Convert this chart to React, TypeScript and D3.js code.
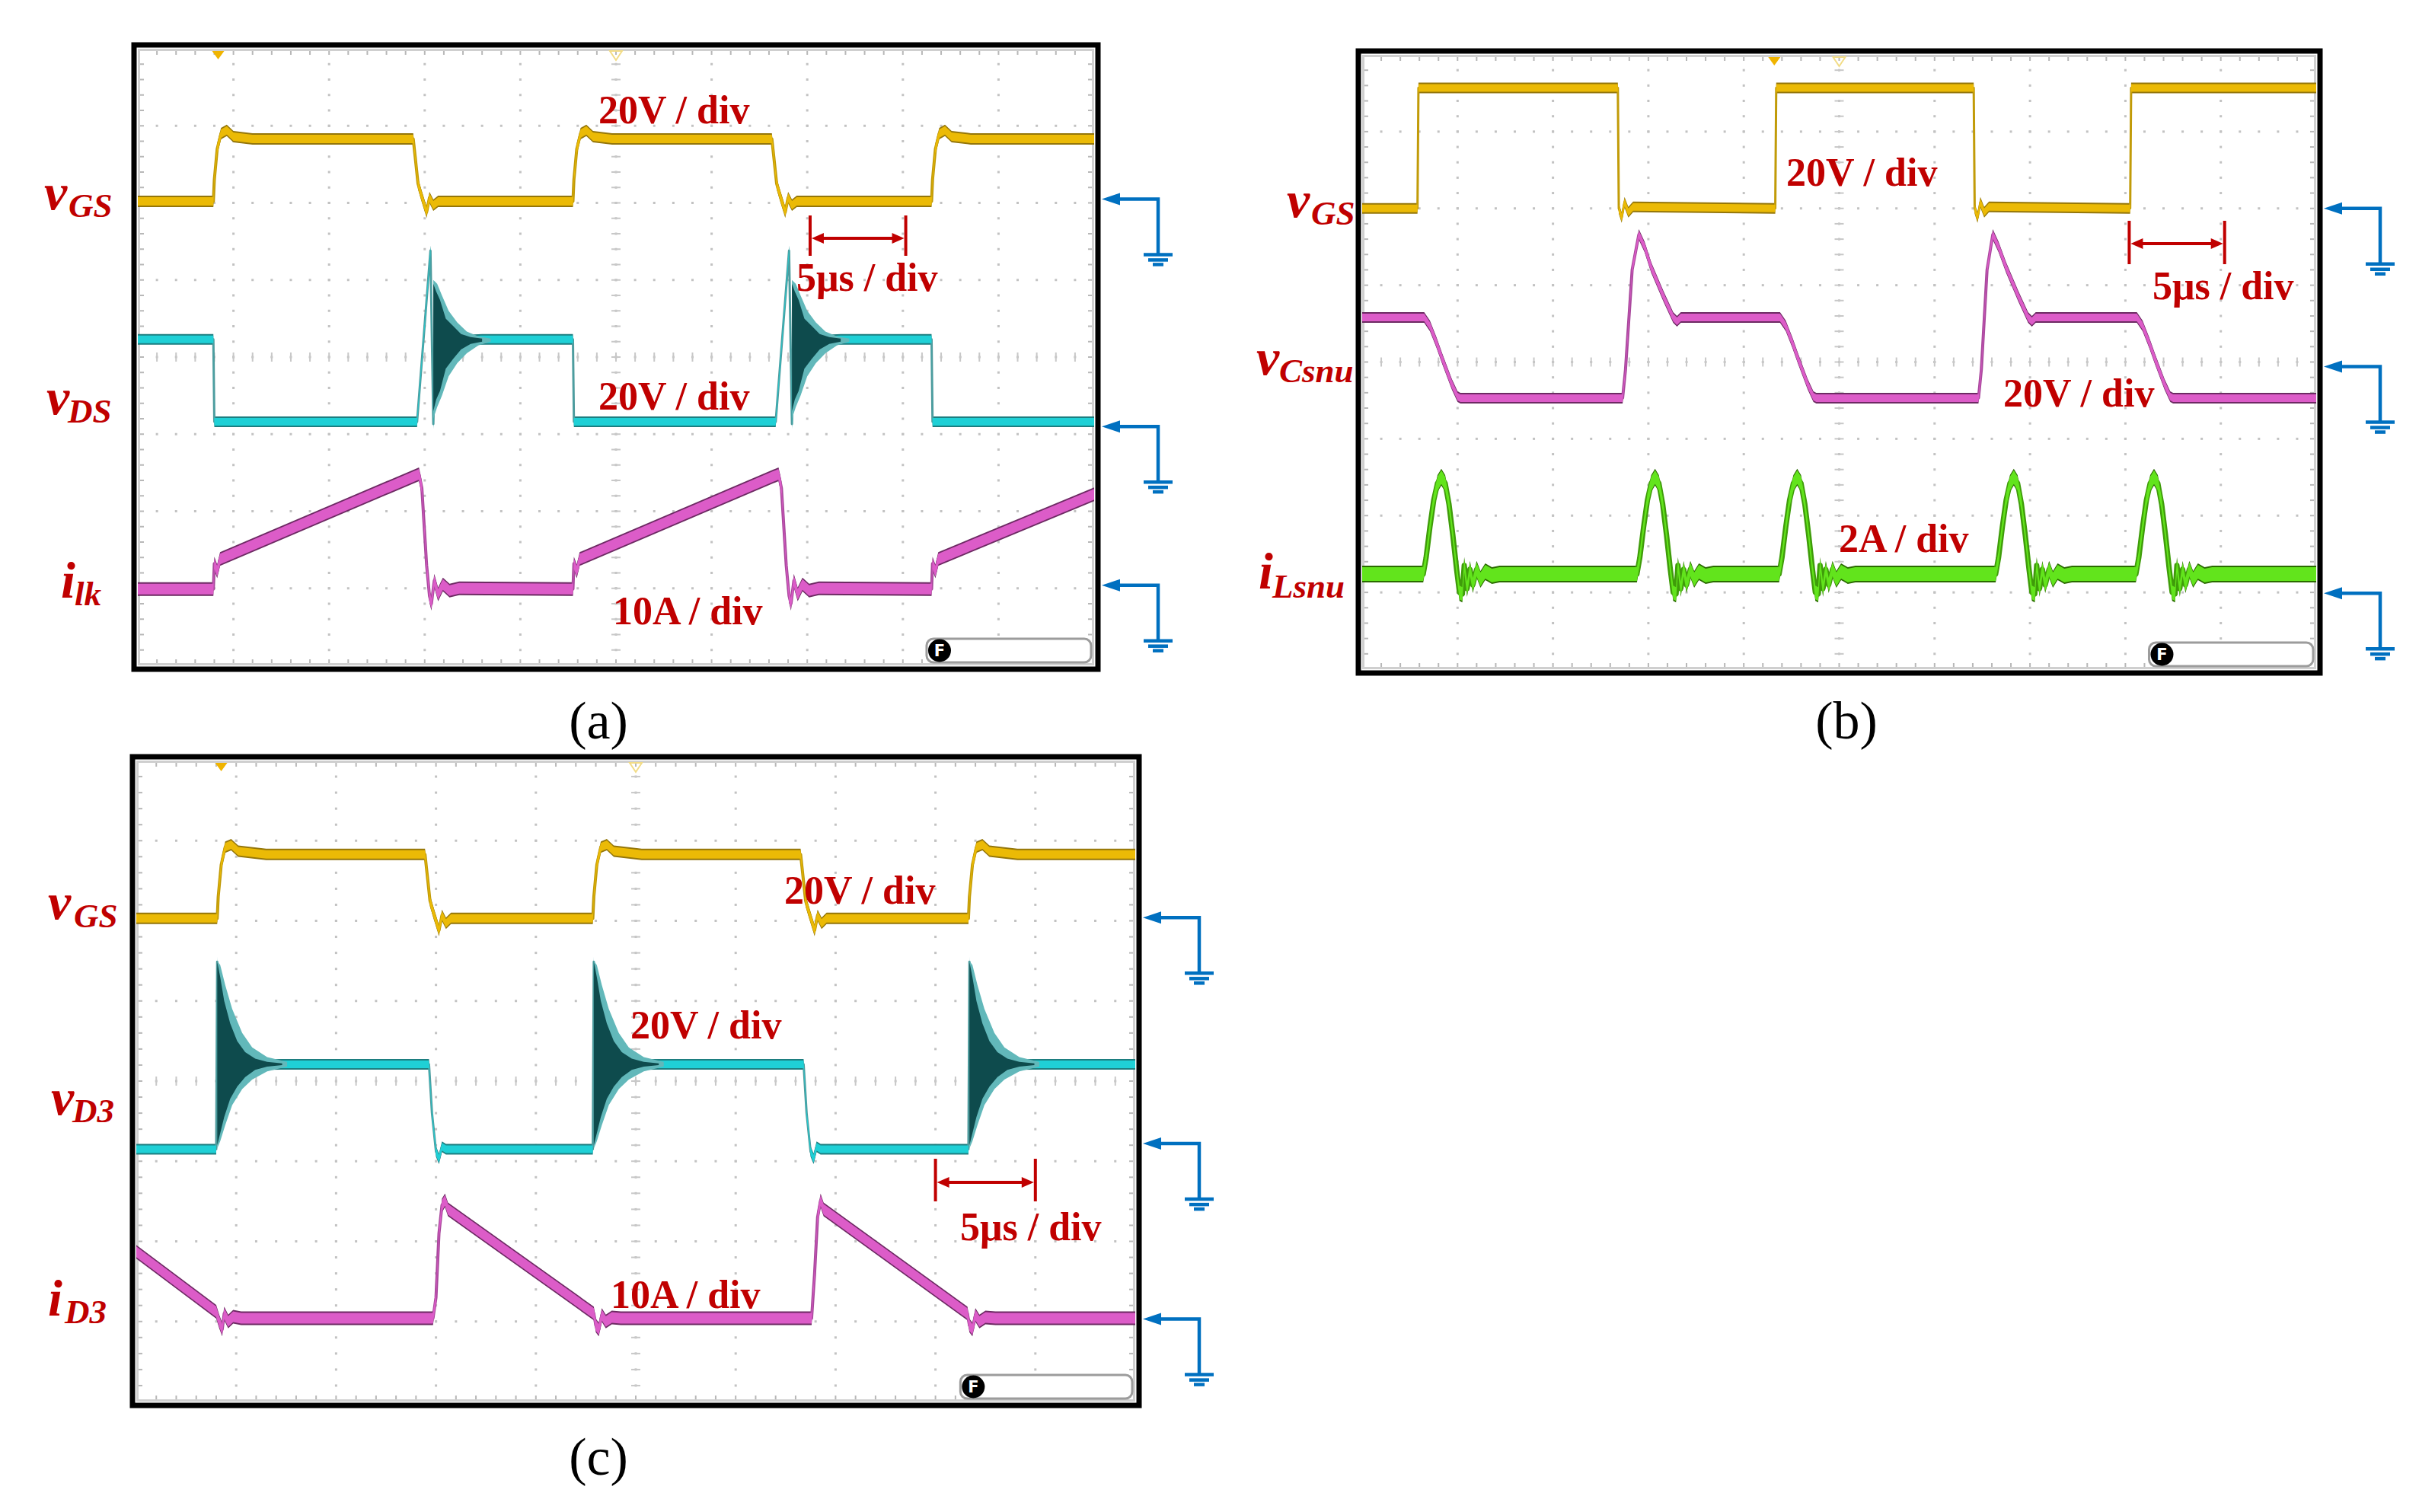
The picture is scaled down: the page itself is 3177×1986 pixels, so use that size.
import React from 'react';
import * as d3 from 'd3';

type P = [number, number];
type R = [number, number, number];

// ---------------- DATA (x in divisions 0..10, y in divisions 0..8 from bottom) ----------------
// Panel (a)
const aVgs: P[] = [
  [0, 6.02], [0.79, 6.02], [0.8, 6.3], [0.83, 6.7], [0.87, 6.9], [0.93, 6.94], [1.0, 6.86], [1.2, 6.83],
  [2.88, 6.83], [2.9, 6.6], [2.93, 6.25], [2.97, 6.08], [3.02, 5.88], [3.05, 6.07], [3.09, 5.97], [3.14, 6.02],
  [4.55, 6.02], [4.56, 6.3], [4.59, 6.7], [4.63, 6.9], [4.69, 6.94], [4.76, 6.86], [4.96, 6.83],
  [6.63, 6.83], [6.65, 6.6], [6.68, 6.25], [6.72, 6.08], [6.77, 5.88], [6.8, 6.07], [6.84, 5.97], [6.89, 6.02],
  [8.3, 6.02], [8.31, 6.3], [8.34, 6.7], [8.38, 6.9], [8.44, 6.94], [8.51, 6.86], [8.71, 6.83], [10, 6.83],
];
const aVds: P[] = [
  [0, 4.23], [0.79, 4.23], [0.8, 3.16], [2.92, 3.16], [3.06, 5.38], [3.09, 3.13], [3.11, 4.2], [3.6, 4.23],
  [4.55, 4.23], [4.56, 3.16], [6.67, 3.16], [6.81, 5.38], [6.84, 3.13], [6.86, 4.2], [7.35, 4.23],
  [8.3, 4.23], [8.31, 3.16], [10, 3.16],
];
const aRingInner: R[] = [
  [0, 4.95, 3.3], [0.03, 4.85, 3.45], [0.07, 4.74, 3.56], [0.13, 4.5, 3.85], [0.21, 4.4, 3.98],
  [0.29, 4.3, 4.1], [0.39, 4.26, 4.17], [0.51, 4.24, 4.2],
];
const aRingOuter: R[] = [
  [0, 5.0, 3.2], [0.04, 4.95, 3.35], [0.09, 4.8, 3.5], [0.16, 4.6, 3.75], [0.25, 4.45, 3.92],
  [0.35, 4.33, 4.05], [0.47, 4.27, 4.15], [0.6, 4.24, 4.2],
];
const aRingStarts = [3.09, 6.84];
const aIlk: P[] = [
  [0, 0.99], [0.79, 0.99], [0.8, 1.32], [0.83, 1.22], [0.86, 1.38], [2.94, 2.48], [2.97, 2.3], [3.02, 1.3],
  [3.05, 0.9], [3.07, 0.8], [3.1, 1.1], [3.14, 0.92], [3.19, 1.05], [3.26, 0.97], [3.36, 1.0],
  [4.55, 0.99], [4.56, 1.32], [4.59, 1.22], [4.62, 1.38], [6.7, 2.48], [6.73, 2.3], [6.78, 1.3],
  [6.81, 0.9], [6.83, 0.8], [6.86, 1.1], [6.9, 0.92], [6.95, 1.05], [7.02, 0.97], [7.12, 1.0],
  [8.3, 0.99], [8.31, 1.32], [8.34, 1.22], [8.37, 1.38], [10, 2.22],
];
const aGrounds = [6.05, 3.1, 1.04];

// Panel (b)
const bVgs: P[] = [
  [0, 6.0], [0.58, 6.0], [0.59, 7.57], [2.68, 7.57], [2.69, 6.0], [2.72, 5.88], [2.75, 6.08], [2.79, 5.95],
  [2.84, 6.02], [4.33, 6.0], [4.34, 7.57], [6.41, 7.57], [6.42, 6.0], [6.45, 5.88], [6.48, 6.08],
  [6.52, 5.95], [6.57, 6.02], [8.05, 6.0], [8.06, 7.57], [10, 7.57],
];
const bVcsnu: P[] = [
  [0, 4.58], [0.65, 4.58], [0.71, 4.47], [0.78, 4.25], [0.84, 4.04], [0.94, 3.71], [1.0, 3.55], [1.03, 3.53],
  [2.73, 3.53], [2.76, 3.9], [2.83, 5.2], [2.9, 5.66], [2.96, 5.5], [3.03, 5.23], [3.16, 4.85], [3.26, 4.58],
  [3.3, 4.53], [3.34, 4.58], [4.38, 4.58], [4.44, 4.47], [4.51, 4.25], [4.57, 4.04], [4.67, 3.71],
  [4.73, 3.55], [4.76, 3.53], [6.46, 3.53], [6.49, 3.9], [6.55, 5.2], [6.61, 5.66], [6.67, 5.5],
  [6.75, 5.23], [6.88, 4.85], [6.98, 4.58], [7.02, 4.53], [7.06, 4.58], [8.12, 4.58], [8.18, 4.47],
  [8.25, 4.25], [8.31, 4.04], [8.41, 3.71], [8.47, 3.55], [8.5, 3.53], [10, 3.53],
];
const bPulse: P[] = [
  [0, 1.24], [0.03, 1.45], [0.07, 1.85], [0.11, 2.2], [0.15, 2.42], [0.19, 2.5], [0.23, 2.42], [0.27, 2.15],
  [0.31, 1.75], [0.35, 1.3], [0.38, 1.0], [0.41, 0.98], [0.43, 1.35], [0.46, 1.05], [0.49, 1.3], [0.52, 1.1],
  [0.56, 1.3], [0.6, 1.17], [0.65, 1.27], [0.72, 1.22], [0.8, 1.24],
];
const bPulseStarts = [0.64, 2.88, 4.37, 6.64, 8.11];
const bBase = 1.24;
const bGrounds = [6.0, 3.94, 0.99];

// Panel (c)
const cVgs: P[] = [
  [0, 6.03], [0.81, 6.03], [0.82, 6.3], [0.85, 6.7], [0.89, 6.92], [0.95, 6.95], [1.02, 6.87], [1.3, 6.83],
  [2.89, 6.83], [2.91, 6.6], [2.94, 6.25], [2.98, 6.08], [3.03, 5.88], [3.06, 6.07], [3.1, 5.97], [3.15, 6.03],
  [4.57, 6.03], [4.58, 6.3], [4.61, 6.7], [4.65, 6.92], [4.71, 6.95], [4.78, 6.87], [5.06, 6.83],
  [6.65, 6.83], [6.67, 6.6], [6.7, 6.25], [6.74, 6.08], [6.79, 5.88], [6.82, 6.07], [6.86, 5.97], [6.91, 6.03],
  [8.33, 6.03], [8.34, 6.3], [8.37, 6.7], [8.41, 6.92], [8.47, 6.95], [8.54, 6.87], [8.82, 6.83], [10, 6.83],
];
const cVd3: P[] = [
  [0, 3.15], [0.8, 3.15], [0.81, 5.49], [0.83, 3.3], [0.85, 4.2], [1.45, 4.21], [2.93, 4.21], [2.96, 3.6],
  [3.0, 3.12], [3.03, 3.03], [3.06, 3.18], [3.1, 3.15], [4.57, 3.15], [4.58, 5.49], [4.6, 3.3], [4.62, 4.2],
  [5.2, 4.21], [6.68, 4.21], [6.71, 3.6], [6.75, 3.12], [6.78, 3.03], [6.81, 3.18], [6.85, 3.15],
  [8.33, 3.15], [8.34, 5.49], [8.36, 3.3], [8.38, 4.2], [8.98, 4.21], [10, 4.21],
];
const cRingInner: R[] = [
  [0, 5.49, 3.2], [0.03, 5.3, 3.35], [0.07, 5.0, 3.55], [0.13, 4.72, 3.78], [0.2, 4.5, 3.93],
  [0.28, 4.36, 4.05], [0.38, 4.28, 4.14], [0.5, 4.24, 4.18], [0.65, 4.22, 4.2],
];
const cRingOuter: R[] = [
  [0, 5.5, 3.16], [0.03, 5.45, 3.25], [0.08, 5.2, 3.45], [0.15, 4.9, 3.7], [0.25, 4.6, 3.9],
  [0.35, 4.42, 4.02], [0.5, 4.3, 4.12], [0.7, 4.24, 4.18],
];
const cRingStarts = [0.81, 4.58, 8.34];
const cId3: P[] = [
  [0, 1.87], [0.8, 1.12], [0.83, 1.0], [0.86, 0.9], [0.88, 1.1], [0.92, 1.0], [0.97, 1.06], [1.05, 1.04],
  [2.97, 1.04], [3.0, 1.3], [3.03, 2.1], [3.06, 2.45], [3.09, 2.51], [3.12, 2.4], [4.58, 1.1], [4.6, 0.95],
  [4.63, 0.9], [4.66, 1.08], [4.7, 1.0], [4.76, 1.05], [4.85, 1.04], [6.76, 1.04], [6.79, 1.6], [6.82, 2.3],
  [6.85, 2.51], [6.88, 2.4], [8.32, 1.1], [8.34, 0.95], [8.37, 0.9], [8.4, 1.08], [8.44, 1.0], [8.5, 1.05],
  [8.6, 1.04], [10, 1.04],
];
const cGrounds = [6.04, 3.22, 1.03];

// Text
const aScaleTexts = ['20V / div', '5μs / div', '20V / div', '10A / div'];
const bScaleTexts = ['20V / div', '5μs / div', '20V / div', '2A / div'];
const cScaleTexts = ['20V / div', '20V / div', '5μs / div', '10A / div'];
const aNames: [string, string][] = [['v', 'GS'], ['v', 'DS'], ['i', 'lk']];
const bNames: [string, string][] = [['v', 'GS'], ['v', 'Csnu'], ['i', 'Lsnu']];
const cNames: [string, string][] = [['v', 'GS'], ['v', 'D3'], ['i', 'D3']];
const panelTags = ['(a)', '(b)', '(c)'];

// ---------------- LAYOUT / STYLE ----------------
const RED = '#c00000';
const BLUE = '#0070c0';
const SERIF = '"Liberation Serif", "Times New Roman", serif';
const YEL = { dark: '#94760a', bright: '#ebba06', edge: '#c09a08' };
const CYA = { dark: '#1d7e80', bright: '#1fd0d6', edge: '#4f9a9c' };
const MAG = { dark: '#6d2a63', bright: '#dc5cc8', edge: '#a8489c' };
const GRN = { dark: '#2a6a00', bright: '#62e41c', edge: '#3f9c0a' };

type Box = { x0: number; y0: number; x1: number; y1: number };
const LA: Box = { x0: 181, y0: 64, x1: 1437, y1: 874 };
const LB: Box = { x0: 1789, y0: 72, x1: 3042, y1: 879 };
const LC: Box = { x0: 179, y0: 999, x1: 1491, y1: 1841 };

function scales(b: Box) {
  return {
    xs: d3.scaleLinear().domain([0, 10]).range([b.x0, b.x1]),
    ys: d3.scaleLinear().domain([0, 8]).range([b.y1, b.y0]),
  };
}

type Sc = ReturnType<typeof scales>;

function Trace({ pts, sc, h, col, edgeW }: { pts: P[]; sc: Sc; h: number; col: typeof YEL; edgeW: number }) {
  const { xs, ys } = sc;
  const outer = d3.area<P>().x(d => xs(d[0])).y0(d => ys(d[1]) + h / 2 + 2).y1(d => ys(d[1]) - h / 2 - 2)(pts) || '';
  const inner = d3.area<P>().x(d => xs(d[0])).y0(d => ys(d[1]) + h / 2).y1(d => ys(d[1]) - h / 2)(pts) || '';
  const ln = d3.line<P>().x(d => xs(d[0])).y(d => ys(d[1]))(pts) || '';
  return (
    <g>
      <path d={outer} fill={col.dark} />
      <path d={ln} fill="none" stroke={col.edge} strokeWidth={edgeW} strokeLinejoin="round" />
      <path d={inner} fill={col.bright} />
    </g>
  );
}

function Ring({ rows, t0, sc, fill }: { rows: R[]; t0: number; sc: Sc; fill: string }) {
  const { xs, ys } = sc;
  const shifted: R[] = rows.map(r => [r[0] + t0, r[1], r[2]]);
  const a = d3.area<R>().x(d => xs(d[0])).y0(d => ys(d[2])).y1(d => ys(d[1]))(shifted) || '';
  return <path d={a} fill={fill} />;
}

function Grid({ sc, b }: { sc: Sc; b: Box }) {
  const { xs, ys } = sc;
  const els: React.ReactNode[] = [];
  const dc = '#c2c2c2';
  for (let i = 1; i < 10; i++) {
    for (let k = 1; k < 40; k++) {
      els.push(<rect key={`v${i}-${k}`} x={xs(i) - 1.5} y={ys(k * 0.2) - 1.5} width={3} height={3} fill={dc} />);
    }
  }
  for (let j = 1; j < 8; j++) {
    for (let k = 1; k < 50; k++) {
      els.push(<rect key={`h${j}-${k}`} x={xs(k * 0.2) - 1.5} y={ys(j) - 1.5} width={3} height={3} fill={dc} />);
    }
  }
  for (let k = 1; k < 40; k++) {
    const y = ys(k * 0.2);
    els.push(<line key={`cv${k}`} x1={xs(5) - 6} x2={xs(5) + 6} y1={y} y2={y} stroke="#c8c8c8" strokeWidth={2} />);
    els.push(<line key={`lt${k}`} x1={b.x0} x2={b.x0 + 8} y1={y} y2={y} stroke="#b8b8b8" strokeWidth={2} />);
    els.push(<line key={`rt${k}`} x1={b.x1 - 8} x2={b.x1} y1={y} y2={y} stroke="#b8b8b8" strokeWidth={2} />);
  }
  for (let k = 1; k < 50; k++) {
    const x = xs(k * 0.2);
    els.push(<line key={`ch${k}`} x1={x} x2={x} y1={ys(4) - 6} y2={ys(4) + 6} stroke="#c8c8c8" strokeWidth={2} />);
    els.push(<line key={`tt${k}`} x1={x} x2={x} y1={b.y0} y2={b.y0 + 8} stroke="#b8b8b8" strokeWidth={2} />);
    els.push(<line key={`bt${k}`} x1={x} x2={x} y1={b.y1 - 8} y2={b.y1} stroke="#b8b8b8" strokeWidth={2} />);
  }
  return <g>{els}</g>;
}

function Ground({ x, y }: { x: number; y: number }) {
  const cx = x + 74;
  const yb = y + 73;
  return (
    <g>
      <g stroke={BLUE} strokeWidth={4.5} fill="none">
        <path d={`M${x + 18},${y} H${cx} V${yb}`} />
        <line x1={cx - 19} x2={cx + 19} y1={yb} y2={yb} />
        <line x1={cx - 13} x2={cx + 13} y1={yb + 7} y2={yb + 7} />
        <line x1={cx - 7} x2={cx + 7} y1={yb + 13} y2={yb + 13} />
      </g>
      <path d={`M${x},${y} L${x + 24},${y - 8} L${x + 24},${y + 8} Z`} fill={BLUE} />
    </g>
  );
}

function TimeArrow({ x0, x1, y, top, bottom }: { x0: number; x1: number; y: number; top: number; bottom: number }) {
  return (
    <g>
      <g stroke={RED} strokeWidth={4} fill="none">
        <line x1={x0} x2={x0} y1={top} y2={bottom} />
        <line x1={x1} x2={x1} y1={top} y2={bottom} />
        <line x1={x0 + 8} x2={x1 - 8} y1={y} y2={y} />
      </g>
      <path d={`M${x0 + 2},${y} L${x0 + 18},${y - 7} L${x0 + 18},${y + 7} Z`} fill={RED} />
      <path d={`M${x1 - 2},${y} L${x1 - 18},${y - 7} L${x1 - 18},${y + 7} Z`} fill={RED} />
    </g>
  );
}

function ScreenFrame({ b, sc, id, trig, children }: { b: Box; sc: Sc; id: string; trig: number; children: React.ReactNode }) {
  const { xs } = sc;
  const tx = xs(trig);
  const cx = xs(5);
  const bw = (b.x1 - b.x0) * 0.172;
  const bx = b.x1 - 4 - bw;
  const by = b.y1 - 35;
  return (
    <g>
      <defs>
        <clipPath id={`clip-${id}`}>
          <rect x={b.x0} y={b.y0} width={b.x1 - b.x0} height={b.y1 - b.y0} />
        </clipPath>
      </defs>
      <rect x={b.x0} y={b.y0} width={b.x1 - b.x0} height={b.y1 - b.y0} fill="#fff" />
      <Grid sc={sc} b={b} />
      <rect x={b.x0 + 1.5} y={b.y0 + 1.5} width={b.x1 - b.x0 - 3} height={b.y1 - b.y0 - 3} fill="none" stroke="#cfcfcf" strokeWidth={3} />
      <g clipPath={`url(#clip-${id})`}>{children}</g>
      <path d={`M${tx - 8},${b.y0 + 3} L${tx + 8},${b.y0 + 3} L${tx},${b.y0 + 14} Z`} fill="#f0b400" />
      <path d={`M${cx - 8},${b.y0 + 3} L${cx + 8},${b.y0 + 3} L${cx},${b.y0 + 15} Z`} fill="none" stroke="#f2dc86" strokeWidth={2} />
      <rect x={bx} y={by} width={bw} height={31} rx={9} fill="#fff" stroke="#9c9c9c" strokeWidth={3} />
      <circle cx={bx + 17} cy={by + 15.5} r={15} fill="#000" />
      <text x={bx + 17} y={by + 23} textAnchor="middle" fontFamily="DejaVu Sans, sans-serif" fontWeight="bold" fontSize={21} fill="#fff">F</text>
      <rect x={b.x0 - 5} y={b.y0 - 5} width={b.x1 - b.x0 + 10} height={b.y1 - b.y0 + 10} fill="none" stroke="#000" strokeWidth={7} />
    </g>
  );
}

function Name({ x, y, main, sub, subX, subY }: { x: number; y: number; main: string; sub: string; subX: number; subY: number }) {
  return (
    <g fill={RED} fontFamily={SERIF} fontStyle="italic" fontWeight="bold">
      <text x={x} y={y} fontSize={68}>{main}</text>
      <text x={subX} y={subY} fontSize={45}>{sub}</text>
    </g>
  );
}

function ScaleText({ x, y, t }: { x: number; y: number; t: string }) {
  return <text x={x} y={y} fill={RED} fontFamily={SERIF} fontWeight="bold" fontSize={52}>{t}</text>;
}

function buildPulses(): P[] {
  const out: P[] = [[0, bBase]];
  bPulseStarts.forEach(s => bPulse.forEach(p => out.push([s + p[0], p[1]])));
  out.push([10, bBase]);
  return out;
}

export default function App() {
  const sa = scales(LA);
  const sb = scales(LB);
  const scc = scales(LC);
  const bIls = buildPulses();

  const gTip = (b: Box) => b.x1 + 10;

  return (
    <svg width={3177} height={1986} style={{ position: 'absolute', left: 0, top: 0, background: '#fff' }} xmlns="http://www.w3.org/2000/svg">
      <rect x={0} y={0} width={3177} height={1986} fill="#fff" />

      {/* Panel (a) */}
      <ScreenFrame b={LA} sc={sa} id="a" trig={0.84}>
        <Trace pts={aVgs} sc={sa} h={11} col={YEL} edgeW={4} />
        <Trace pts={aVds} sc={sa} h={10} col={CYA} edgeW={3} />
        {aRingStarts.map((t, i) => <Ring key={`ao${i}`} rows={aRingOuter} t0={t} sc={sa} fill="#62b8ba" />)}
        {aRingStarts.map((t, i) => <Ring key={`ai${i}`} rows={aRingInner} t0={t} sc={sa} fill="#0e4b4d" />)}
        <Trace pts={aIlk} sc={sa} h={14} col={MAG} edgeW={4} />
      </ScreenFrame>
      {aGrounds.map((g, i) => <Ground key={`ga${i}`} x={gTip(LA)} y={sa.ys(g)} />)}
      <TimeArrow x0={sa.xs(7.03)} x1={sa.xs(8.03)} y={313} top={283} bottom={336} />
      <ScaleText x={786} y={162} t={aScaleTexts[0]} />
      <ScaleText x={1046} y={382} t={aScaleTexts[1]} />
      <ScaleText x={786} y={538} t={aScaleTexts[2]} />
      <ScaleText x={805} y={820} t={aScaleTexts[3]} />
      <Name x={58} y={275} main={aNames[0][0]} sub={aNames[0][1]} subX={90} subY={285} />
      <Name x={61} y={544} main={aNames[1][0]} sub={aNames[1][1]} subX={89} subY={555} />
      <Name x={80} y={785} main={aNames[2][0]} sub={aNames[2][1]} subX={98} subY={795} />
      <text x={786} y={970} textAnchor="middle" fontFamily={SERIF} fontSize={70} fill="#000">{panelTags[0]}</text>

      {/* Panel (b) */}
      <ScreenFrame b={LB} sc={sb} id="b" trig={4.32}>
        <Trace pts={bVgs} sc={sb} h={10} col={YEL} edgeW={3} />
        <Trace pts={bVcsnu} sc={sb} h={10} col={MAG} edgeW={4} />
        <Trace pts={bIls} sc={sb} h={18} col={GRN} edgeW={7} />
      </ScreenFrame>
      {bGrounds.map((g, i) => <Ground key={`gb${i}`} x={gTip(LB)} y={sb.ys(g)} />)}
      <TimeArrow x0={sb.xs(8.04)} x1={sb.xs(9.04)} y={320} top={290} bottom={347} />
      <ScaleText x={2346} y={244} t={bScaleTexts[0]} />
      <ScaleText x={2827} y={393} t={bScaleTexts[1]} />
      <ScaleText x={2631} y={534} t={bScaleTexts[2]} />
      <ScaleText x={2415} y={725} t={bScaleTexts[3]} />
      <Name x={1690} y={285} main={bNames[0][0]} sub={bNames[0][1]} subX={1722} subY={295} />
      <Name x={1650} y={492} main={bNames[1][0]} sub={bNames[1][1]} subX={1680} subY={502} />
      <Name x={1653} y={773} main={bNames[2][0]} sub={bNames[2][1]} subX={1671} subY={785} />
      <text x={2425} y={970} textAnchor="middle" fontFamily={SERIF} fontSize={70} fill="#000">{panelTags[1]}</text>

      {/* Panel (c) */}
      <ScreenFrame b={LC} sc={scc} id="c" trig={0.85}>
        <Trace pts={cVgs} sc={scc} h={11} col={YEL} edgeW={4} />
        <Trace pts={cVd3} sc={scc} h={10} col={CYA} edgeW={3} />
        {cRingStarts.map((t, i) => <Ring key={`co${i}`} rows={cRingOuter} t0={t} sc={scc} fill="#62b8ba" />)}
        {cRingStarts.map((t, i) => <Ring key={`ci${i}`} rows={cRingInner} t0={t} sc={scc} fill="#0e4b4d" />)}
        <Trace pts={cId3} sc={scc} h={14} col={MAG} edgeW={4} />
      </ScreenFrame>
      {cGrounds.map((g, i) => <Ground key={`gc${i}`} x={gTip(LC)} y={scc.ys(g)} />)}
      <TimeArrow x0={scc.xs(8.0)} x1={scc.xs(9.0)} y={1553} top={1522} bottom={1578} />
      <ScaleText x={1030} y={1187} t={cScaleTexts[0]} />
      <ScaleText x={828} y={1364} t={cScaleTexts[1]} />
      <ScaleText x={1261} y={1629} t={cScaleTexts[2]} />
      <ScaleText x={802} y={1718} t={cScaleTexts[3]} />
      <Name x={63} y={1207} main={cNames[0][0]} sub={cNames[0][1]} subX={97} subY={1218} />
      <Name x={67} y={1464} main={cNames[1][0]} sub={cNames[1][1]} subX={95} subY={1474} />
      <Name x={63} y={1728} main={cNames[2][0]} sub={cNames[2][1]} subX={85} subY={1738} />
      <text x={786} y={1937} textAnchor="middle" fontFamily={SERIF} fontSize={70} fill="#000">{panelTags[2]}</text>
    </svg>
  );
}
